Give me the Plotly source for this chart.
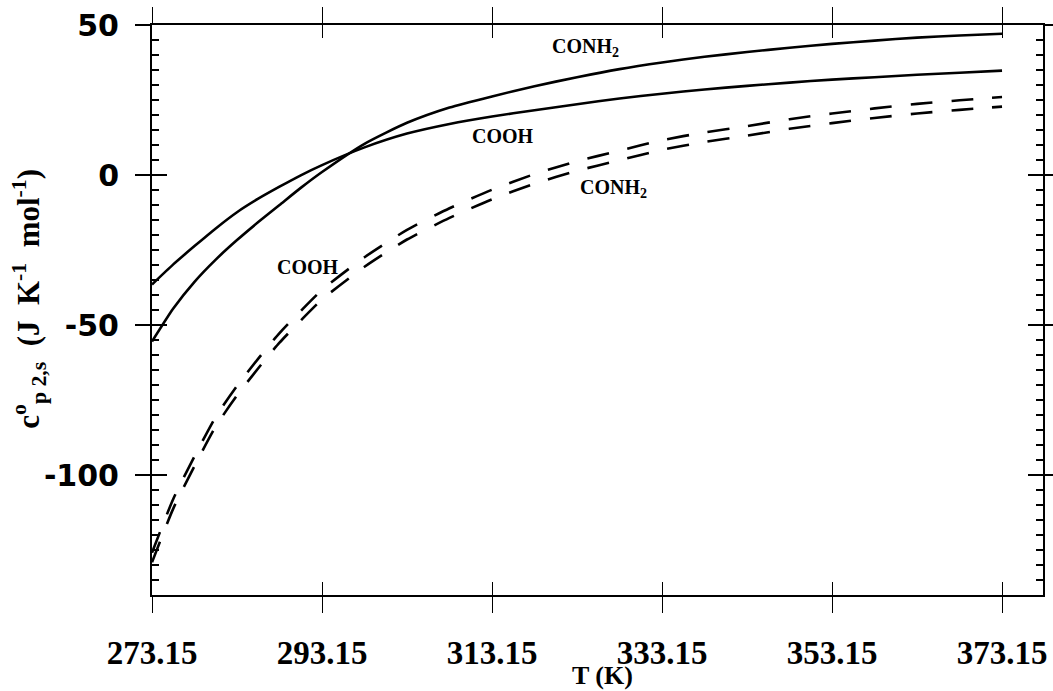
import plotly.graph_objects as go

# Temperature grid (K)
T_K = [273.15, 275.65, 278.15, 280.65, 283.15, 285.65, 288.15, 290.65, 293.15,
       298.15, 303.15, 308.15, 313.15, 318.15, 323.15, 328.15, 333.15, 338.15,
       343.15, 348.15, 353.15, 358.15, 363.15, 368.15, 373.15]

# Solid curves
conh2_solid = [-55.5, -44.5, -35.6, -28.2, -21.7, -15.7, -10.0, -4.3, 1.0,
               10.4, 17.4, 22.5, 26.2, 29.6, 32.6, 35.3, 37.5, 39.4,
               41.0, 42.4, 43.7, 44.8, 45.8, 46.5, 47.1]
cooh_solid = [-36.5, -29.8, -23.7, -17.8, -12.4, -7.9, -3.9, -0.1, 3.3,
              9.2, 13.8, 17.0, 19.5, 21.6, 23.6, 25.5, 27.1, 28.5,
              29.7, 30.8, 31.8, 32.6, 33.4, 34.1, 34.8]

# Dashed curves
cooh_dash = [-125.9, -108.0, -93.8, -80.6, -70.3, -61.2, -52.7, -45.3, -38.3,
             -27.4, -18.3, -11.1, -4.9, 0.3, 4.6, 8.1, 11.6, 14.2,
             16.3, 18.6, 20.5, 22.2, 23.7, 24.9, 26.0]
conh2_dash = [-129.1, -111.2, -97.0, -83.8, -73.5, -64.4, -55.9, -48.5, -41.5,
              -30.6, -21.5, -14.3, -8.1, -2.9, 1.4, 4.9, 8.4, 11.0,
              13.1, 15.4, 17.3, 19.0, 20.5, 21.7, 22.8]

x_ticks = [273.15, 293.15, 313.15, 333.15, 353.15, 373.15]
x_ticktext = ["273.15", "293.15", "313.15", "333.15", "353.15", "373.15"]
y_ticks = [-100, -50, 0, 50]
y_ticktext = ["-100", "-50", "0", "50"]

X_RANGE = [273.15, 377.97]
Y_RANGE = [-140, 50]

SERIF = "Liberation Serif, Times New Roman, serif"
SANS = "DejaVu Sans, Arial, sans-serif"

fig = go.Figure()

solid_style = dict(color="black", width=2.6, shape="spline", smoothing=0.6)
dash_style = dict(color="black", width=2.6, dash="22px,19px", shape="spline", smoothing=0.6)

fig.add_trace(go.Scatter(x=T_K, y=conh2_solid, mode="lines", line=solid_style,
                         name="CONH2 solid", showlegend=False))
fig.add_trace(go.Scatter(x=T_K, y=cooh_solid, mode="lines", line=solid_style,
                         name="COOH solid", showlegend=False))
fig.add_trace(go.Scatter(x=T_K, y=cooh_dash, mode="lines", line=dash_style,
                         name="COOH dashed", showlegend=False))
fig.add_trace(go.Scatter(x=T_K, y=conh2_dash, mode="lines", line=dash_style,
                         name="CONH2 dashed", showlegend=False))

# empty traces that carry the overlay axes (inner half of crossing ticks, minor ticks)
fig.add_trace(go.Scatter(x=[None], y=[None], xaxis="x2", yaxis="y2",
                         showlegend=False, hoverinfo="skip"))
fig.add_trace(go.Scatter(x=[None], y=[None], xaxis="x", yaxis="y3",
                         showlegend=False, hoverinfo="skip"))

fig.update_layout(
    width=1053, height=691,
    margin=dict(l=152, r=10, t=25, b=96, autoexpand=False),
    paper_bgcolor="white", plot_bgcolor="white",
    showlegend=False,
    xaxis=dict(
        range=X_RANGE, tickmode="array", tickvals=x_ticks, ticktext=x_ticktext,
        ticks="outside", ticklen=16, tickwidth=1, tickcolor="black",
        showline=True, linewidth=2, linecolor="black", mirror="ticks",
        showgrid=False, zeroline=False, automargin=False,
        tickfont=dict(family=SERIF, size=33, color="black", weight="bold"),
        ticklabelstandoff=11,
    ),
    xaxis2=dict(
        range=X_RANGE, overlaying="x", anchor="y", side="bottom",
        tickmode="array", tickvals=x_ticks,
        ticks="inside", ticklen=13, tickwidth=1, tickcolor="black",
        mirror="ticks", showline=False, showgrid=False, zeroline=False,
        showticklabels=False, automargin=False,
    ),
    yaxis=dict(
        range=Y_RANGE, tickmode="array", tickvals=y_ticks, ticktext=y_ticktext,
        ticks="outside", ticklen=15, tickwidth=2, tickcolor="black",
        showline=True, linewidth=2, linecolor="black", mirror="ticks",
        showgrid=False, zeroline=False, automargin=False,
        tickfont=dict(family=SANS, size=30, color="black", weight="bold"),
        ticklabelstandoff=10,
    ),
    yaxis2=dict(
        range=Y_RANGE, overlaying="y", anchor="x", side="left",
        tickmode="array", tickvals=y_ticks,
        ticks="inside", ticklen=15, tickwidth=2, tickcolor="black",
        mirror="ticks", showline=False, showgrid=False, zeroline=False,
        showticklabels=False, automargin=False,
    ),
    # minor ticks every 5 units
    yaxis3=dict(
        range=Y_RANGE, overlaying="y", anchor="x", side="left",
        tickmode="linear", tick0=0, dtick=5,
        ticks="inside", ticklen=7, tickwidth=2, tickcolor="black",
        mirror="ticks", showline=False, showgrid=False, zeroline=False,
        showticklabels=False, automargin=False,
    ),
)

label_font = dict(family=SERIF, size=20, color="black", weight="bold")
curve_labels = [
    ("CONH<sub>2</sub>", 320.0, 42.5),
    ("COOH", 310.6, 13.0),
    ("CONH<sub>2</sub>", 323.3, -4.5),
    ("COOH", 287.6, -30.8),
]
for text, xv, yv in curve_labels:
    fig.add_annotation(x=xv, y=yv, xref="x", yref="y", text=text, showarrow=False,
                       xanchor="left", yanchor="middle", font=label_font)

# axis titles
fig.add_annotation(x=0.506, y=-0.141, xref="paper", yref="paper", text="T (K)",
                   showarrow=False, xanchor="center", yanchor="middle",
                   font=dict(family=SERIF, size=26, color="black", weight="bold"))
fig.add_annotation(x=-0.138, y=0.52, xref="paper", yref="paper",
                   text="c<sup>o</sup><sub>p 2,s</sub>  (J  K<sup>-1</sup>  mol<sup>-1</sup>)",
                   textangle=-90, showarrow=False, xanchor="center", yanchor="middle",
                   font=dict(family=SERIF, size=31, color="black", weight="bold"))

fig.write_html("out.html")
